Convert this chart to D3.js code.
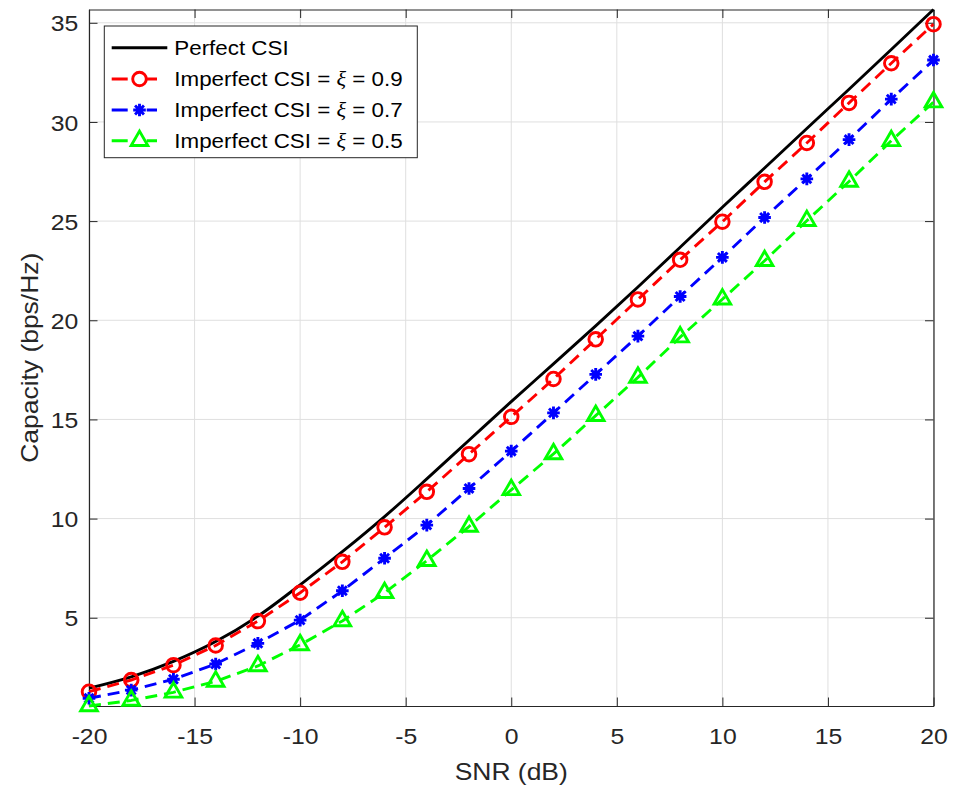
<!DOCTYPE html>
<html><head><meta charset="utf-8">
<script src="https://cdn.jsdelivr.net/npm/d3@7"></script>
<style>body{margin:0;background:#fff} svg{display:block}</style>
</head><body>
<svg id="chart" width="953" height="792"></svg>
<script>
// ---- data ----
const snr = [-20,-18,-16,-14,-12,-10,-8,-6,-4,-2,0,2,4,6,8,10,12,14,16,18,20];
const perfectCSI = [1.45,2.02,2.80,3.80,5.08,6.66,8.33,10.1,12.0,13.95,15.9,17.8,19.72,21.68,23.68,25.7,27.68,29.67,31.65,33.65,35.67];
const imperfect09 = [1.27,1.86,2.61,3.60,4.83,6.26,7.82,9.56,11.35,13.25,15.13,17.04,19.04,21.05,23.05,24.97,26.98,28.94,30.96,32.96,34.93];
const imperfect07 = [0.94,1.35,1.90,2.67,3.71,4.88,6.36,8.00,9.67,11.52,13.40,15.33,17.27,19.20,21.20,23.17,25.18,27.13,29.11,31.15,33.12];
const imperfect05 = [0.55,0.83,1.24,1.79,2.57,3.63,4.84,6.26,7.88,9.60,11.45,13.26,15.19,17.12,19.15,21.06,23.00,25.02,27.00,29.05,31.00];
const xTicks = [-20,-15,-10,-5,0,5,10,15,20];
const yTicks = [5,10,15,20,25,30,35];
const legendPrefix = ["Perfect CSI","Imperfect CSI = ","Imperfect CSI = ","Imperfect CSI = "];
const legendSymbol = ["","ξ","ξ","ξ"];
const legendSuffix = [""," = 0.9"," = 0.7"," = 0.5"];
const xLabel = "SNR (dB)";
const yLabel = "Capacity (bps/Hz)";

// ---- layout ----
const L = 89, R = 933.5, T = 9.5, B = 706;
const svg = d3.select("#chart");
const x = d3.scaleLinear().domain([-20,20]).range([L,R]);
const y = d3.scaleLinear().domain([0.55,35.67]).range([B,T]);
const axisColor = "#262626";
const font = "'Liberation Sans', Arial, Helvetica, sans-serif";

// grid
const grid = svg.append("g");
grid.selectAll(".gx").data(xTicks).join("line")
  .attr("x1", d=>x(d)).attr("x2", d=>x(d)).attr("y1", T).attr("y2", B)
  .attr("stroke", "#dfdfdf").attr("stroke-width", 1);
grid.selectAll(".gy").data(yTicks).join("line")
  .attr("y1", d=>y(d)).attr("y2", d=>y(d)).attr("x1", L).attr("x2", R)
  .attr("stroke", "#dfdfdf").attr("stroke-width", 1);

// axes
const tk = 8.5;
function styleAxis(g){
  g.select(".domain").attr("stroke", axisColor).attr("stroke-width", 1.2);
  g.selectAll(".tick line").attr("stroke", axisColor).attr("stroke-width", 1);
  g.selectAll("text").attr("fill", axisColor).attr("font-family", font).attr("font-size", 22.5);
}
const gxb = svg.append("g").attr("transform", `translate(0,${B})`)
  .call(d3.axisBottom(x).tickValues(xTicks).tickSizeInner(-tk).tickSizeOuter(0).tickFormat(d=>String(d)));
styleAxis(gxb);
gxb.selectAll("text").attr("y", 0).attr("dy", null).attr("transform", "translate(0,38) scale(1.1,1)");

const gyl = svg.append("g").attr("transform", `translate(${L},0)`)
  .call(d3.axisLeft(y).tickValues(yTicks).tickSizeInner(-tk).tickSizeOuter(0).tickFormat(d=>String(d)));
styleAxis(gyl);
gyl.selectAll("text").attr("x", 0).attr("dy", null).attr("y", 0).attr("transform", "translate(-10.7,8.2) scale(1.1,1)");

const gxt = svg.append("g").attr("transform", `translate(0,${T})`)
  .call(d3.axisTop(x).tickValues(xTicks).tickSizeInner(-tk).tickSizeOuter(0).tickFormat(""));
styleAxis(gxt);
const gyr = svg.append("g").attr("transform", `translate(${R},0)`)
  .call(d3.axisRight(y).tickValues(yTicks).tickSizeInner(-tk).tickSizeOuter(0).tickFormat(""));
styleAxis(gyr);

// axis labels
svg.append("text").attr("transform", `translate(${(L+R)/2},780) scale(1.15,1)`)
  .attr("text-anchor","middle").attr("font-family", font).attr("font-size", 23)
  .attr("fill", axisColor).text(xLabel);
svg.append("text").attr("transform", `translate(38,${(T+B)/2}) rotate(-90) scale(1.15,1)`)
  .attr("text-anchor","middle").attr("font-family", font).attr("font-size", 23)
  .attr("fill", axisColor).text(yLabel);

// ---- series ----
const lw = 2.9;
const dash = "12,7";
const series = [
  {vals: perfectCSI, color: "#000000", dash: null, marker: null},
  {vals: imperfect09, color: "#ff0000", dash: dash, marker: "circle"},
  {vals: imperfect07, color: "#0000ff", dash: dash, marker: "star"},
  {vals: imperfect05, color: "#00ff00", dash: dash, marker: "tri"}
];
function markerPath(type){
  if(type==="circle"){ const r=6.8; return `M${r},0A${r},${r},0,1,1,${-r},0A${r},${r},0,1,1,${r},0Z`; }
  if(type==="star"){ const r=6.3, d=r*0.7071; return `M${-r},0H${r}M0,${-r}V${r}M${-d},${-d}L${d},${d}M${-d},${d}L${d},${-d}`; }
  if(type==="tri"){ const r=9.6, h=r*0.5, w=r*0.866; return `M0,${-r}L${w},${h}L${-w},${h}Z`; }
  return "";
}
const lineGen = d3.line().x(d=>x(d[0])).y(d=>y(d[1]));
const lineSmooth = d3.line().x(d=>x(d[0])).y(d=>y(d[1])).curve(d3.curveMonotoneX);
series.forEach(s=>{
  const pts = snr.map((v,i)=>[v, s.vals[i]]);
  svg.append("path").attr("d", s.dash ? lineGen(pts) : lineSmooth(pts))
    .attr("fill","none").attr("stroke", s.color).attr("stroke-width", lw)
    .attr("stroke-dasharray", s.dash).attr("stroke-linejoin","round");
  if(s.marker){
    svg.append("g").selectAll("path").data(pts).join("path")
      .attr("transform", d=>`translate(${x(d[0])},${y(d[1])})`)
      .attr("d", markerPath(s.marker)).attr("fill","none")
      .attr("stroke", s.color).attr("stroke-width", lw).attr("stroke-linejoin","miter");
  }
});

// ---- legend ----
const lg = svg.append("g");
lg.append("rect").attr("x",104.3).attr("y",26).attr("width",313).attr("height",131.7)
  .attr("fill","#fff").attr("stroke", axisColor).attr("stroke-width",1);
const rowY = [47.7, 79, 110, 140.7];
series.forEach((s,i)=>{
  const cy = rowY[i];
  lg.append("line").attr("x1",111.7).attr("x2", s.dash ? 157 : 167.3).attr("y1",cy).attr("y2",cy)
    .attr("stroke", s.color).attr("stroke-width", lw)
    .attr("stroke-dasharray", s.dash ? "16,19,12,100" : null);
  if(s.marker){
    lg.append("path").attr("transform",`translate(139.5,${cy})`).attr("d", markerPath(s.marker))
      .attr("fill","none").attr("stroke", s.color).attr("stroke-width", lw);
  }
  const t = lg.append("text").attr("transform",`translate(174.3,${cy+6.8}) scale(1.065,1)`)
    .attr("font-family", font).attr("font-size", 21).attr("fill","#000");
  t.append("tspan").text(legendPrefix[i]);
  if(legendSymbol[i]){
    t.append("tspan").attr("font-family","'Liberation Serif','DejaVu Serif',serif").attr("font-style","italic").text(legendSymbol[i]);
    t.append("tspan").text(legendSuffix[i]);
  }
});
</script>
</body></html>
